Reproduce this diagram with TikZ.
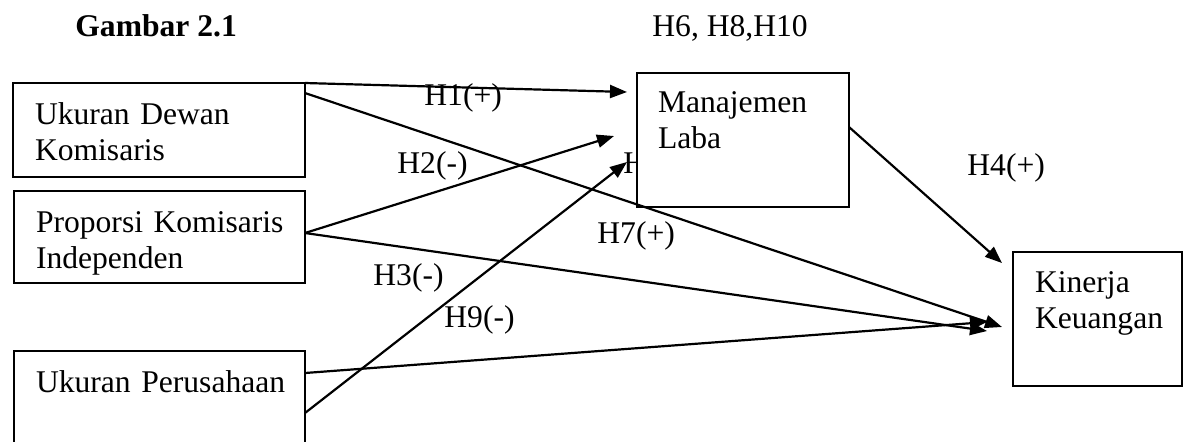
\documentclass[tikz,border=0pt]{standalone}
\usepackage{fontspec}
\setmainfont{Liberation Serif}
\usetikzlibrary{arrows.meta,calc,backgrounds}

\begin{document}
\begin{tikzpicture}[x=0.5pt,y=-0.5pt,font=\fontsize{15.8pt}{18pt}\selectfont,
  >={Triangle[length=8.5pt,width=6.5pt]},
  var/.style={draw,line width=1pt,fill=white,anchor=north west,outer sep=0pt,align=left,
    inner xsep=11pt,inner ysep=0pt,text height=20.5pt},
  hyp/.style={anchor=base west,inner sep=0pt},
  arr/.style={->,line width=1.1pt}]
\useasboundingbox (0,0) rectangle (1183,441);
\clip (0,0) rectangle (1183,441);
\node[var,text width=124pt,text depth=26.5pt] (ukd) at (13,83) {\mbox{Ukuran Dewan}\\\mbox{Komisaris}};
\node[var,text width=123.5pt,text depth=25.5pt] (pki) at (14,191) {\mbox{Proporsi Komisaris}\\\mbox{Independen}};
\node[var,text width=123.5pt,text depth=44pt] (up) at (14,351) {\mbox{Ukuran Perusahaan}};
\node[var,inner xsep=10.5pt,text width=85pt,text height=19.5pt,text depth=47.5pt] (ml) at (637,73) {\mbox{Manajemen}\\\mbox{Laba}};
\node[var,text width=62.5pt,text height=20pt,text depth=47pt] (kk) at (1013,252) {\mbox{Kinerja}\\\mbox{Keuangan}};
\coordinate (ukdml) at (627,92);
\coordinate (ukdkk) at (1002,327);
\coordinate (pkiml) at (614,136);
\coordinate (pkikk) at (987,331);
\coordinate (upml) at (627,162);
\coordinate (upkk) at (987,322);
\coordinate (mlkk) at (1002,263);
\draw[arr] (ukd.north east) -- (ukdml);
\draw[arr] ($(ukd.north east)+(0,10)$) -- (ukdkk);
\draw[arr] ($(pki.east)+(0,-4)$) -- (pkiml);
\draw[arr] ($(pki.east)+(0,-4)$) -- (pkikk);
\draw[arr] ($(up.north east)+(0,62)$) -- (upml);
\draw[arr] ($(up.north east)+(0,22)$) -- (upkk);
\draw[arr] ($(ml.east)+(0,-13)$) -- (mlkk);
\node[hyp,font=\fontsize{15.8pt}{18pt}\selectfont\bfseries] (judul) at (75,36) {Gambar 2.1};
\node[hyp] (h6) at (652,36) {H6, H8,H10};
\node[hyp] (h1) at (424,105) {H1(+)};
\node[hyp] (h2) at (397,173) {H2(-)};
\node[hyp] (h3) at (373,285) {H3(-)};
\node[hyp] (h4) at (967,175) {H4(+)};
\node[hyp] (h7) at (597,243) {H7(+)};
\node[hyp] (h9) at (444,327) {H9(-)};
\begin{scope}[on background layer]
\node[hyp] (h5) at (623,173) {H};
\end{scope}
\end{tikzpicture}
\end{document}
